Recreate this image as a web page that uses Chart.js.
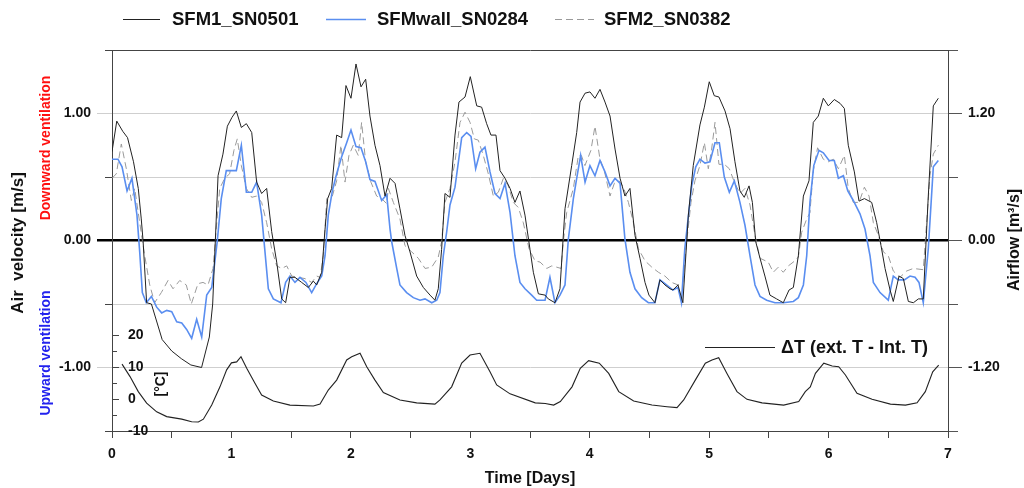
<!DOCTYPE html>
<html>
<head>
<meta charset="utf-8">
<script src="https://cdn.jsdelivr.net/npm/chart.js@4.4.1/dist/chart.umd.min.js"></script>
<style>
    html, body { margin: 0; padding: 0; background: #fff; }
    #wrap { position: relative; width: 1024px; height: 488px; }
</style>
</head>
<body>
<div id="wrap"><canvas id="chart" width="1024" height="488"></canvas></div>
<script>
// [day, air velocity m/s]
const sfm1 = [
    [0,0.70],[0.04,0.94],[0.09,0.86],[0.13,0.81],[0.18,0.62],[0.22,0.41],[0.245,0.17],[0.26,0.0],[0.29,-0.49],[0.33,-0.50],
    [0.42,-0.78],[0.50,-0.87],[0.58,-0.93],[0.66,-0.98],[0.75,-1.0],[0.815,-0.76],[0.843,-0.50],[0.888,0.51],[0.929,0.68],[0.966,0.90],
    [1.005,0.97],[1.041,1.02],[1.083,0.89],[1.125,0.92],[1.17,0.85],[1.211,0.46],[1.253,0.37],[1.295,0.41],[1.337,0.07],[1.379,-0.17],
    [1.421,-0.46],[1.454,-0.49],[1.49,-0.29],[1.532,-0.29],[1.588,-0.33],[1.644,-0.37],[1.686,-0.32],[1.714,-0.35],[1.756,-0.25],[1.784,0.09],
    [1.806,0.33],[1.839,0.41],[1.881,0.83],[1.923,0.81],[1.959,1.22],[2.001,1.12],[2.043,1.39],[2.085,1.21],[2.124,1.27],[2.16,0.98],
    [2.202,0.75],[2.244,0.59],[2.286,0.35],[2.328,0.49],[2.37,0.45],[2.411,0.25],[2.453,0.04],[2.495,-0.09],[2.551,-0.28],[2.607,-0.37],
    [2.663,-0.43],[2.704,-0.47],[2.732,-0.38],[2.76,-0.07],[2.788,0.37],[2.83,0.34],[2.872,0.83],[2.905,1.09],[2.956,1.13],[3.0,1.29],
    [3.054,1.06],[3.095,1.05],[3.137,0.92],[3.173,0.83],[3.215,0.83],[3.249,0.55],[3.291,0.49],[3.333,0.41],[3.374,0.30],[3.416,0.39],
    [3.458,0.20],[3.5,-0.07],[3.528,-0.25],[3.57,-0.42],[3.626,-0.43],[3.653,-0.46],[3.709,-0.49],[3.751,-0.38],[3.793,0.25],[3.849,0.59],
    [3.891,0.85],[3.919,1.09],[3.961,1.16],[4.002,1.17],[4.044,1.12],[4.086,1.19],[4.128,1.09],[4.17,0.98],[4.212,0.72],[4.254,0.49],
    [4.295,0.35],[4.337,0.41],[4.379,0.04],[4.421,-0.14],[4.463,-0.33],[4.496,-0.43],[4.546,-0.49],[4.588,-0.31],[4.63,-0.35],[4.672,-0.38],
    [4.697,-0.39],[4.739,-0.35],[4.78,-0.49],[4.826,0.20],[4.867,0.59],[4.923,0.91],[4.96,1.05],[5.001,1.25],[5.043,1.14],[5.082,1.13],
    [5.133,1.02],[5.175,0.88],[5.216,0.62],[5.258,0.39],[5.294,0.34],[5.334,0.43],[5.362,0.30],[5.39,-0.01],[5.426,-0.14],[5.467,-0.28],
    [5.509,-0.43],[5.565,-0.46],[5.621,-0.49],[5.669,-0.39],[5.705,-0.37],[5.747,-0.12],[5.789,0.35],[5.836,0.47],[5.872,0.93],[5.914,0.98],
    [5.956,1.12],[5.998,1.06],[6.048,1.11],[6.096,1.08],[6.132,1.04],[6.165,0.75],[6.216,0.54],[6.255,0.31],[6.3,0.33],[6.361,0.30],
    [6.403,0.14],[6.439,-0.04],[6.473,-0.22],[6.515,-0.39],[6.542,-0.48],[6.59,-0.28],[6.626,-0.30],[6.668,-0.48],[6.71,-0.49],[6.752,-0.46],
    [6.793,-0.46],[6.835,0.35],[6.877,1.06],[6.919,1.12]
];

const sfmWall = [
    [0,0.64],[0.05,0.64],[0.084,0.58],[0.126,0.39],[0.167,0.49],[0.209,0.20],[0.232,-0.09],[0.254,-0.41],[0.287,-0.49],[0.33,-0.44],
    [0.374,-0.525],[0.416,-0.57],[0.458,-0.55],[0.5,-0.56],[0.542,-0.64],[0.584,-0.65],[0.625,-0.70],[0.667,-0.77],[0.709,-0.62],[0.751,-0.76],
    [0.793,-0.43],[0.835,-0.37],[0.862,-0.16],[0.882,0],[0.915,0.33],[0.957,0.55],[0.999,0.55],[1.041,0.55],[1.083,0.75],[1.125,0.38],
    [1.17,0.38],[1.211,0.46],[1.253,0.20],[1.281,-0.09],[1.309,-0.38],[1.351,-0.46],[1.415,-0.49],[1.454,-0.33],[1.49,-0.28],[1.532,-0.33],
    [1.574,-0.29],[1.624,-0.33],[1.672,-0.41],[1.714,-0.34],[1.756,-0.28],[1.784,-0.12],[1.811,0.20],[1.845,0.39],[1.881,0.525],[1.923,0.66],
    [1.965,0.77],[2.001,0.87],[2.043,0.74],[2.085,0.73],[2.124,0.62],[2.16,0.48],[2.202,0.465],[2.258,0.315],[2.3,0.36],[2.328,0.09],
    [2.342,-0.01],[2.384,-0.22],[2.411,-0.35],[2.467,-0.41],[2.523,-0.45],[2.579,-0.47],[2.621,-0.46],[2.677,-0.49],[2.719,-0.47],[2.746,-0.41],
    [2.774,-0.12],[2.802,0.065],[2.83,0.28],[2.872,0.42],[2.928,0.81],[2.97,0.85],[3.006,0.82],[3.045,0.565],[3.081,0.695],[3.123,0.735],
    [3.165,0.54],[3.207,0.37],[3.249,0.33],[3.291,0.45],[3.333,0.22],[3.374,-0.12],[3.416,-0.33],[3.458,-0.38],[3.514,-0.43],[3.556,-0.47],
    [3.626,-0.47],[3.667,-0.29],[3.709,-0.49],[3.751,-0.43],[3.793,-0.35],[3.821,0.01],[3.863,0.33],[3.891,0.49],[3.924,0.67],[3.961,0.46],
    [4.002,0.59],[4.044,0.51],[4.086,0.63],[4.128,0.54],[4.17,0.43],[4.212,0.49],[4.254,0.45],[4.295,0.01],[4.337,-0.25],[4.379,-0.38],
    [4.435,-0.45],[4.491,-0.49],[4.546,-0.49],[4.588,-0.31],[4.63,-0.34],[4.697,-0.39],[4.739,-0.37],[4.768,-0.49],[4.796,-0.065],[4.854,0.43],
    [4.888,0.58],[4.923,0.64],[4.965,0.61],[5.007,0.62],[5.049,0.77],[5.085,0.77],[5.127,0.50],[5.169,0.38],[5.211,0.47],[5.258,0.30],
    [5.3,0.12],[5.342,-0.12],[5.384,-0.35],[5.426,-0.44],[5.482,-0.47],[5.551,-0.49],[5.621,-0.49],[5.705,-0.48],[5.747,-0.45],[5.789,-0.35],
    [5.817,-0.12],[5.844,0.30],[5.876,0.59],[5.92,0.71],[5.956,0.69],[6.004,0.63],[6.048,0.63],[6.082,0.49],[6.124,0.51],[6.161,0.39],
    [6.207,0.315],[6.263,0.21],[6.305,0.09],[6.347,-0.12],[6.375,-0.33],[6.431,-0.41],[6.5,-0.47],[6.542,-0.28],[6.584,-0.31],[6.634,-0.31],
    [6.682,-0.28],[6.724,-0.29],[6.757,-0.33],[6.793,-0.49],[6.835,-0.065],[6.877,0.58],[6.919,0.63]
];

const sfm2 = [
    [0,0.49],[0.036,0.525],[0.078,0.76],[0.12,0.565],[0.162,0.315],[0.19,0.41],[0.232,0.14],[0.274,-0.12],[0.316,-0.35],[0.357,-0.49],
    [0.413,-0.41],[0.469,-0.315],[0.511,-0.38],[0.567,-0.315],[0.622,-0.35],[0.664,-0.5],[0.72,-0.34],[0.762,-0.33],[0.804,-0.35],[0.846,-0.22],
    [0.873,0.09],[0.902,0.41],[0.944,0.49],[0.985,0.525],[1.021,0.71],[1.049,0.80],[1.083,0.59],[1.125,0.41],[1.17,0.34],[1.211,0.35],
    [1.253,0.30],[1.295,0.14],[1.337,-0.065],[1.379,-0.2],[1.421,-0.22],[1.463,-0.2],[1.505,-0.28],[1.56,-0.29],[1.616,-0.30],[1.672,-0.33],
    [1.714,-0.28],[1.742,-0.29],[1.77,-0.12],[1.798,0.33],[1.845,0.35],[1.881,0.47],[1.917,0.75],[1.951,0.46],[1.984,0.67],[2.02,0.75],
    [2.062,0.67],[2.09,0.93],[2.124,0.62],[2.168,0.46],[2.216,0.35],[2.258,0.33],[2.3,0.29],[2.314,0.41],[2.356,0.30],[2.411,0.17],
    [2.453,-0.04],[2.51,-0.09],[2.565,-0.14],[2.621,-0.22],[2.677,-0.21],[2.732,-0.13],[2.76,-0.01],[2.788,0.30],[2.83,0.41],[2.872,0.62],
    [2.914,0.93],[2.956,1.01],[2.998,0.93],[3.034,0.80],[3.067,0.79],[3.109,0.67],[3.151,0.525],[3.193,0.35],[3.235,0.38],[3.277,0.49],
    [3.318,0.43],[3.36,0.30],[3.402,0.26],[3.444,0.14],[3.492,-0.065],[3.542,-0.16],[3.584,-0.17],[3.64,-0.22],[3.682,-0.2],[3.723,-0.21],
    [3.76,-0.22],[3.779,-0.01],[3.807,0.22],[3.863,0.41],[3.905,0.67],[3.93,0.67],[3.96,0.59],[4.01,0.71],[4.044,0.90],[4.086,0.64],
    [4.122,0.55],[4.17,0.35],[4.206,0.45],[4.246,0.47],[4.282,0.42],[4.324,0.30],[4.366,0.14],[4.408,-0.065],[4.463,-0.16],[4.52,-0.21],
    [4.575,-0.25],[4.63,-0.28],[4.686,-0.33],[4.739,-0.35],[4.78,-0.33],[4.812,-0.01],[4.848,0.30],[4.881,0.47],[4.923,0.59],[4.96,0.77],
    [4.993,0.565],[5.021,0.72],[5.049,0.93],[5.082,0.60],[5.127,0.60],[5.169,0.565],[5.211,0.46],[5.258,0.37],[5.3,0.41],[5.342,0.28],
    [5.384,0.04],[5.426,-0.14],[5.495,-0.17],[5.537,-0.25],[5.579,-0.21],[5.621,-0.25],[5.663,-0.2],[5.718,-0.16],[5.747,-0.13],[5.775,0.065],
    [5.817,0.17],[5.844,0.22],[5.872,0.55],[5.908,0.73],[5.956,0.64],[5.998,0.62],[6.04,0.64],[6.082,0.565],[6.132,0.67],[6.165,0.41],
    [6.207,0.30],[6.255,0.30],[6.3,0.42],[6.339,0.35],[6.375,0.14],[6.417,0.04],[6.459,-0.09],[6.5,-0.12],[6.542,-0.24],[6.598,-0.29],
    [6.654,-0.24],[6.71,-0.22],[6.793,-0.23],[6.821,0.14],[6.849,0.51],[6.877,0.68],[6.919,0.75]
];

// [day, deltaT °C]
const deltaT = [
    [0.084,10.9],[0.151,7.0],[0.22,2.3],[0.29,-1.3],[0.374,-4.0],[0.458,-5.5],[0.584,-6.3],[0.667,-7.1],[0.723,-7.2],[0.765,-6.3],
    [0.835,-1.9],[0.904,3.8],[0.96,9.1],[1.0,11.3],[1.044,11.6],[1.08,13.2],[1.128,9.6],[1.197,4.9],[1.253,1.25],[1.351,-0.6],
    [1.49,-1.9],[1.686,-2.2],[1.742,-1.6],[1.811,2.8],[1.881,5.9],[1.965,12.2],[2.007,13.2],[2.077,14.3],[2.133,10.1],[2.202,5.9],
    [2.272,2.0],[2.411,-0.3],[2.551,-1.2],[2.704,-1.6],[2.746,-0.3],[2.844,3.8],[2.928,11.2],[2.998,13.75],[3.081,14.3],[3.165,8.5],
    [3.221,4.4],[3.333,1.6],[3.544,-1.2],[3.628,-1.4],[3.698,-1.9],[3.754,-0.8],[3.852,3.8],[3.921,9.6],[3.991,12.0],[4.08,11.2],
    [4.159,8.0],[4.243,2.3],[4.368,-0.6],[4.521,-1.9],[4.647,-2.4],[4.731,-2.7],[4.787,-0.3],[4.884,5.9],[4.968,11.2],[5.024,12.2],
    [5.08,12.9],[5.149,8.0],[5.233,2.3],[5.317,-0.1],[5.443,-1.2],[5.624,-1.9],[5.75,-0.8],[5.805,2.3],[5.847,3.8],[5.89,8.0],
    [5.96,11.2],[6.03,10.3],[6.085,10.1],[6.141,7.5],[6.238,1.8],[6.364,-0.1],[6.518,-1.6],[6.644,-1.9],[6.741,-1.2],[6.81,2.3],
    [6.872,8.5],[6.922,10.6]
];

const seriesNames = ['SFM1_SN0501', 'SFMwall_SN0284', 'SFM2_SN0382'];
const deltaTName = '\u0394T (ext. T - Int. T)';

// tick values
const velTicks = [-1.5, -1, -0.5, 0, 0.5, 1, 1.5];
const velLabeled = [-1, 0, 1];
const flowTicks = [-1.8, -1.2, -0.6, 0, 0.6, 1.2, 1.8];
const flowLabeled = [-1.2, 0, 1.2];
const tempTicks = [-10, -5, 0, 5, 10, 15, 20];

const FONT = "'Liberation Sans', Arial, Helvetica, sans-serif";
const BLUE = '#5a8ef0';

Chart.defaults.font.family = FONT;
Chart.defaults.color = '#111';

const toXY = arr => arr.map(p => ({ x: p[0], y: p[1] }));
const isIn = (list, v) => list.some(l => Math.abs(l - v) < 1e-6);

function rotText(c, text, x, y, font, color) {
    c.save();
    c.translate(x, y);
    c.rotate(-Math.PI / 2);
    c.font = font;
    c.fillStyle = color;
    c.textAlign = 'center';
    c.textBaseline = 'middle';
    c.fillText(text, 0, 0);
    c.restore();
}

// legend, temperature axis and side titles
const decor = {
    id: 'decor',
    afterDraw(chart) {
        const c = chart.ctx;
        const area = chart.chartArea;
        const tS = chart.scales.yT;
        c.save();

        // top legend
        const items = [
            { ds: 0, x0: 123, x1: 160, tx: 172 },
            { ds: 1, x0: 326, x1: 366, tx: 377 },
            { ds: 2, x0: 555, x1: 594, tx: 604 }
        ];
        items.forEach(it => {
            const ds = chart.data.datasets[it.ds];
            c.beginPath();
            c.strokeStyle = ds.borderColor;
            c.lineWidth = ds.borderWidth;
            c.setLineDash(ds.borderDash || []);
            c.moveTo(it.x0, 19.5);
            c.lineTo(it.x1, 19.5);
            c.stroke();
            c.setLineDash([]);
            c.font = 'bold 18.5px ' + FONT;
            c.fillStyle = '#111';
            c.textAlign = 'left';
            c.textBaseline = 'middle';
            c.fillText(seriesNames[it.ds], it.tx, 20);
        });

        // delta T legend
        c.beginPath();
        c.strokeStyle = '#222';
        c.lineWidth = 1;
        c.moveTo(705, 347.5);
        c.lineTo(775, 347.5);
        c.stroke();
        c.font = 'bold 18px ' + FONT;
        c.fillStyle = '#111';
        c.textAlign = 'left';
        c.textBaseline = 'middle';
        c.fillText(deltaTName, 781, 348);

        // temperature ticks inside the left axis
        c.strokeStyle = '#444';
        c.lineWidth = 1;
        tempTicks.forEach(v => {
            const y = Math.round(tS.getPixelForValue(v)) + 0.5;
            const major = v % 10 === 0;
            c.beginPath();
            c.moveTo(area.left, y);
            c.lineTo(area.left + (major ? 7 : 5), y);
            c.stroke();
            if (major) {
                c.font = 'bold 14px ' + FONT;
                c.fillStyle = '#111';
                c.textAlign = 'left';
                c.textBaseline = 'middle';
                c.fillText(String(v), area.left + 16, y);
            }
        });
        rotText(c, '[\u00B0C]', 161, 384, 'bold 14px ' + FONT, '#111');

        // axis titles
        rotText(c, 'Air  velocity [m/s]', 18, 243, 'bold 17px ' + FONT, '#111');
        rotText(c, 'Downward ventilation', 46, 148, 'bold 14px ' + FONT, '#ff1010');
        rotText(c, 'Upward ventilation', 46, 353, 'bold 14px ' + FONT, '#2222ee');
        rotText(c, 'Airflow [m\u00B3/s]', 1015, 240, 'bold 16px ' + FONT, '#111');

        c.restore();
    }
};

const velGridColor = ctx => {
    const v = ctx.tick.value;
    if (Math.abs(v) < 1e-6) return '#000';
    if (Math.abs(Math.abs(v) - 1.5) < 1e-6) return '#444';
    return '#cfcfcf';
};

new Chart(document.getElementById('chart'), {
    type: 'line',
    data: {
        datasets: [
            {
                label: seriesNames[0],
                data: toXY(sfm1),
                borderColor: '#222',
                borderWidth: 1,
                yAxisID: 'y'
            },
            {
                label: seriesNames[1],
                data: toXY(sfmWall),
                borderColor: BLUE,
                borderWidth: 1.6,
                yAxisID: 'y'
            },
            {
                label: seriesNames[2],
                data: toXY(sfm2),
                borderColor: '#9a9a9a',
                borderWidth: 1,
                borderDash: [7, 4],
                yAxisID: 'y'
            },
            {
                label: deltaTName,
                data: toXY(deltaT),
                borderColor: '#222',
                borderWidth: 1.1,
                yAxisID: 'yT'
            }
        ]
    },
    options: {
        responsive: false,
        animation: false,
        devicePixelRatio: 1,
        layout: { padding: { top: 50, left: 0, right: 0, bottom: 0 } },
        elements: {
            point: { radius: 0 },
            line: { tension: 0, fill: false }
        },
        plugins: {
            legend: { display: false },
            tooltip: { enabled: false }
        },
        scales: {
            x: {
                type: 'linear',
                min: 0,
                max: 7,
                afterFit: s => { s.height = 57; },
                ticks: {
                    stepSize: 0.5,
                    autoSkip: false,
                    maxRotation: 0,
                    padding: 8,
                    color: '#111',
                    font: { size: 14, weight: 'bold' },
                    callback: v => Number.isInteger(v) ? String(v) : ''
                },
                grid: { drawOnChartArea: false, tickLength: 7, tickColor: '#444' },
                border: { color: '#444', width: 1 },
                title: {
                    display: true,
                    text: 'Time [Days]',
                    color: '#111',
                    font: { size: 16, weight: 'bold' },
                    padding: { top: 0, bottom: 0 }
                }
            },
            y: {
                position: 'left',
                min: -1.5,
                max: 1.5,
                afterFit: s => { s.width = 112; },
                afterBuildTicks: s => { s.ticks = velTicks.map(v => ({ value: v })); },
                ticks: {
                    padding: 6,
                    color: '#111',
                    font: { size: 14, weight: 'bold' },
                    callback: v => isIn(velLabeled, v) ? v.toFixed(2) : ''
                },
                grid: {
                    color: velGridColor,
                    lineWidth: ctx => Math.abs(ctx.tick.value) < 1e-6 ? 2.5 : 1,
                    tickLength: 15,
                    tickColor: ctx => isIn(velLabeled, ctx.tick.value) ? velGridColor(ctx) : '#444',
                    tickBorderDash: ctx => isIn(velLabeled, ctx.tick.value) ? [] : [0, 8, 7, 30]
                },
                border: { color: '#444', width: 1 }
            },
            y2: {
                position: 'right',
                min: -1.8,
                max: 1.8,
                afterFit: s => { s.width = 76; },
                afterBuildTicks: s => { s.ticks = flowTicks.map(v => ({ value: v })); },
                ticks: {
                    padding: 6,
                    color: '#111',
                    font: { size: 14, weight: 'bold' },
                    callback: v => isIn(flowLabeled, v) ? v.toFixed(2) : ''
                },
                grid: {
                    drawOnChartArea: false,
                    tickLength: 14,
                    tickColor: '#555',
                    tickBorderDash: ctx => isIn(flowLabeled, ctx.tick.value) ? [] : [9, 30]
                },
                border: { color: '#444', width: 1 }
            },
            yT: {
                display: false,
                min: -10,
                max: 109.06
            }
        }
    },
    plugins: [decor]
});
</script>
</body>
</html>
